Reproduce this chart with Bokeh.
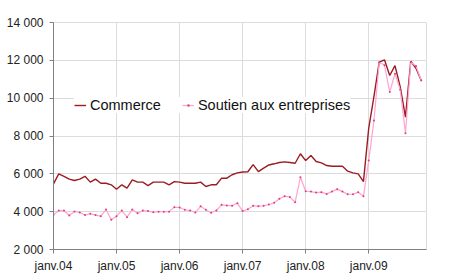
from bokeh.plotting import figure
from bokeh.models import Legend, LegendItem, FixedTicker, Range1d
from bokeh.embed import file_html
from bokeh.resources import INLINE

# Monthly values, janv. 2004 -> nov. 2009
commerce = [5470, 6000, 5870, 5720, 5650, 5720, 5870, 5560, 5720, 5500, 5500, 5420,
            5180, 5420, 5240, 5680, 5560, 5560, 5380, 5560, 5560, 5560, 5420, 5590,
            5560, 5500, 5500, 5500, 5560, 5330, 5420, 5420, 5770, 5770, 5950, 6050,
            6100, 6110, 6490, 6120, 6300, 6470, 6530, 6600, 6630, 6600, 6560, 7060,
            6700, 6970, 6650, 6580, 6440, 6400, 6400, 6400, 6140, 6050, 6000, 5590,
            8400, 10100, 11900, 12030, 11200, 11720, 10600, 9000, 11950, 11580, 10930]
soutien = [3830, 4060, 4060, 3800, 4010, 3960, 3820, 3890, 3820, 3760, 4110, 3570,
           3760, 4060, 3710, 4110, 3920, 4060, 4030, 3970, 4000, 4000, 4000, 4240,
           4220, 4100, 4060, 3960, 4280, 4100, 3940, 4060, 4360, 4330, 4310, 4450,
           4030, 4130, 4310, 4290, 4310, 4380, 4470, 4680, 4820, 4770, 4500, 5820,
           5080, 5060, 5010, 5030, 4940, 5060, 5190, 5060, 4920, 4920, 5030, 4820,
           6700, 8820, 11900, 11740, 10320, 11290, 10440, 8150, 11900, 11700, 10930]
months = list(range(len(commerce)))

x_ticks = [0, 12, 24, 36, 48, 60]
x_tick_labels = ["janv.04", "janv.05", "janv.06", "janv.07", "janv.08", "janv.09"]
y_ticks = [2000, 4000, 6000, 8000, 10000, 12000, 14000]
y_tick_labels = ["2 000", "4 000", "6 000", "8 000", "10 000", "12 000", "14 000"]

FONT = "Liberation Sans"

p = figure(width=450, height=280, output_backend="svg", toolbar_location=None,
           x_range=Range1d(0, 71), y_range=Range1d(2000, 14000),
           min_border_left=53, min_border_right=24, min_border_top=22,
           min_border_bottom=31)
p.background_fill_color = "white"
p.border_fill_color = "white"
p.outline_line_color = "#DCDCDC"

grid_color = "#DCDCDC"
p.xgrid.grid_line_color = grid_color
p.ygrid.grid_line_color = grid_color

p.xaxis.ticker = FixedTicker(ticks=x_ticks)
p.xaxis.major_label_overrides = {t: l for t, l in zip(x_ticks, x_tick_labels)}
p.yaxis.ticker = FixedTicker(ticks=y_ticks)
p.yaxis.major_label_overrides = {t: l for t, l in zip(y_ticks, y_tick_labels)}

for ax in (p.xaxis, p.yaxis):
    ax.axis_line_color = "#808080"
    ax.major_tick_line_color = "#808080"
    ax.minor_tick_line_color = None
    ax.major_tick_out = 4
    ax.major_tick_in = 0
    ax.major_label_text_font = FONT
    ax.major_label_text_font_size = "12px"
    ax.major_label_text_color = "#222222"
p.xaxis.major_label_standoff = 5
p.yaxis.major_label_standoff = 6

r1 = p.line(months, commerce, line_color="#9B1C23", line_width=1.4)
r2 = p.line(months, soutien, line_color="#FFA3D1", line_width=1.2)
r3 = p.scatter(months, soutien, size=2.0, fill_color="#D9407F",
               line_color=None)

legend = Legend(items=[LegendItem(label="Commerce", renderers=[r1]),
                       LegendItem(label="Soutien aux entreprises", renderers=[r2, r3])],
                location=(21, 136), orientation="horizontal",
                glyph_width=12, glyph_height=6, label_height=14,
                label_standoff=4, spacing=21, padding=10, margin=0,
                border_line_color=None, background_fill_color="white",
                background_fill_alpha=1.0,
                label_text_font=FONT, label_text_font_size="14.5px",
                label_text_color="#111111")
p.add_layout(legend)

open("out.html", "w").write(file_html(p, INLINE))
